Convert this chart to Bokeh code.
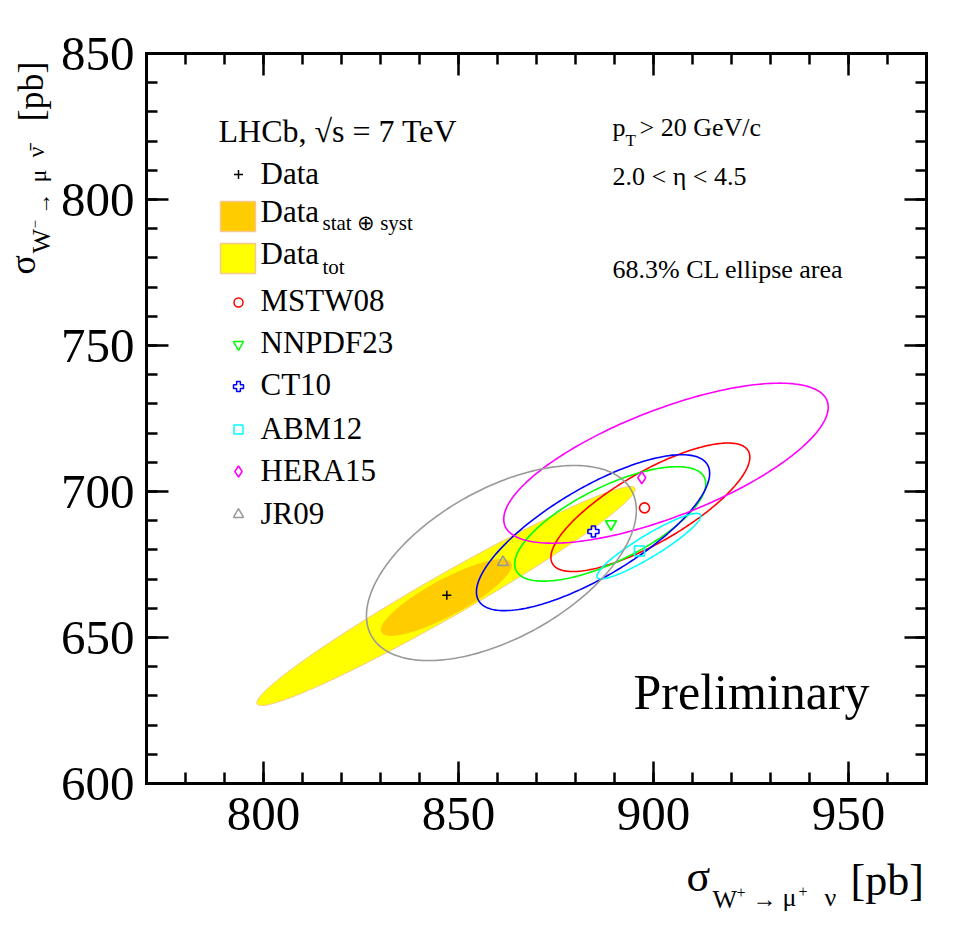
import numpy as np
from bokeh.plotting import figure
from bokeh.models import Range1d, LinearAxis, SingleIntervalTicker, Label
from bokeh.embed import file_html
from bokeh.resources import INLINE

# ---------------- data ----------------
x_lo, x_hi = 770, 970
y_lo, y_hi = 600, 850

data_x = [847.0]
data_y = [664.5]

band_names = ["stat \u2295 syst", "tot"]
band_cx = [846.9, 846.8]
band_cy = [663.7, 664.2]
band_hx = [16.7, 48.5]
band_hy = [13.0, 37.5]
band_rho = [0.85, 0.975]
band_colors = ["#ffcc00", "#ffff00"]

pdf_names = ["MSTW08", "NNPDF23", "CT10", "ABM12", "HERA15", "JR09"]
pdf_x = [897.7, 889.1, 884.6, 896.4, 897.0, 861.4]
pdf_y = [694.4, 688.9, 686.3, 679.6, 704.7, 675.8]
ell_cx = [899.2, 888.9, 884.5, 898.8, 903.2, 861.0]
ell_cy = [694.6, 688.9, 685.9, 681.3, 709.7, 675.5]
ell_hx = [25.5, 24.5, 29.9, 13.3, 41.6, 34.6]
ell_hy = [22.0, 19.6, 26.7, 11.2, 27.4, 33.4]
ell_rho = [0.78, 0.70, 0.76, 0.92, 0.70, 0.54]
pdf_colors = ["#ff0000", "#00ff00", "#0000ff", "#00ffff", "#ff00ff", "#999999"]
pdf_markers = ["circle", "inverted_triangle", "plus", "square", "diamond", "triangle"]
pdf_sizes = [10, 11, 11, 10, 12, 11]

# ---------------- layout (pixels) ----------------
W, H = 954, 914
FL, FR, FT, FB = 146, 926, 53, 783   # chart box edges
FONT = "Liberation Serif"
BASE_FIX = 0.36                      # label anchor sits this many em above the drawn baseline
sx = (FR - FL) / (x_hi - x_lo)
sy = (FB - FT) / (y_hi - y_lo)
view_x = (x_lo - FL / sx, x_hi + (W - FR) / sx)
view_y = (y_lo - (H - FB) / sy, y_hi + FT / sy)


def dx(px):
    return x_lo + (px - FL) / sx


def dy(py):
    return y_hi - (py - FT) / sy


p = figure(width=W, height=H,
           x_range=Range1d(*view_x), y_range=Range1d(*view_y),
           output_backend="svg", toolbar_location=None,
           x_axis_location=None, y_axis_location=None,
           min_border_left=0, min_border_right=0,
           min_border_top=0, min_border_bottom=0)
p.grid.visible = False
p.outline_line_color = None
p.background_fill_color = "white"
p.border_fill_color = "white"


def make_axis(labels, loc, bounds, standoff=10):
    ax = LinearAxis(ticker=SingleIntervalTicker(interval=50, num_minor_ticks=5),
                    fixed_location=loc, bounds=bounds)
    ax.axis_line_width = 3
    ax.axis_line_cap = "square"
    ax.major_tick_in = 22
    ax.major_tick_out = 0
    ax.minor_tick_in = 11
    ax.minor_tick_out = 0
    ax.major_tick_line_width = 2.5
    ax.minor_tick_line_width = 2.5
    ax.major_label_text_font = FONT
    ax.major_label_text_color = "black"
    if labels:
        ax.major_label_text_font_size = "49px"
        ax.major_label_standoff = standoff
    else:
        ax.major_label_text_font_size = "0px"
        ax.major_label_text_alpha = 0
        ax.major_label_standoff = 0
    return ax


p.add_layout(make_axis(True, y_lo, (x_lo, x_hi), 14), "below")
p.add_layout(make_axis(True, x_lo, (y_lo, y_hi), 12), "left")
p.add_layout(make_axis(False, y_hi, (x_lo, x_hi)), "above")
p.add_layout(make_axis(False, x_hi, (y_lo, y_hi)), "right")


def ellipse_pts(cx, cy, hx, hy, rho, n=240):
    t = np.linspace(0, 2 * np.pi, n)
    xs = cx + hx * np.cos(t)
    ys = cy + hy * (rho * np.cos(t) + np.sqrt(1 - rho ** 2) * np.sin(t))
    return xs, ys


# data bands: total (yellow) below, stat+syst (orange) on top
for i in [1, 0]:
    xs, ys = ellipse_pts(band_cx[i], band_cy[i], band_hx[i], band_hy[i], band_rho[i])
    p.patch(xs, ys, fill_color=band_colors[i], line_color="#f6c890" if i == 1 else band_colors[i],
            line_width=1)

# PDF ellipses
for i in range(len(pdf_names)):
    xs, ys = ellipse_pts(ell_cx[i], ell_cy[i], ell_hx[i], ell_hy[i], ell_rho[i])
    p.line(xs, ys, line_color=pdf_colors[i], line_width=1.6)

# PDF central values
for i in range(len(pdf_names)):
    p.scatter([pdf_x[i]], [pdf_y[i]], marker=pdf_markers[i], size=pdf_sizes[i],
              line_color=pdf_colors[i], fill_alpha=0, line_width=1.6)

# data point
p.scatter(data_x, data_y, marker="cross", size=9, line_color="black", line_width=1.5)


def lab(text, px, py, size, rotated=False):
    """px, py: wanted baseline start in picture pixels."""
    if rotated:
        px = px - BASE_FIX * size
        angle = np.pi / 2
    else:
        py = py - BASE_FIX * size
        angle = 0.0
    p.add_layout(Label(x=dx(px), y=dy(py), text=text, text_font=FONT,
                       text_font_size=f"{size}px", text_color="black",
                       text_align="left", text_baseline="alphabetic", angle=angle))


# ---------------- legend ----------------
LX = 238
lab("LHCb, \u221as = 7 TeV", 218, 142, 32)
p.scatter([dx(LX)], [dy(174)], marker="cross", size=9, line_color="black", line_width=1.5)
lab("Data", 260, 184, 31)
box_rows = [(201, 231), (243, 273)]
for i in range(2):
    t, b = box_rows[i]
    p.quad(left=[dx(220)], right=[dx(255)], top=[dy(t)], bottom=[dy(b)],
           fill_color=band_colors[i], line_color="#f6c890", line_width=1.5)
lab("Data", 260, 222, 31)
lab(band_names[0], 322, 230, 21)
lab("Data", 260, 264, 31)
lab(band_names[1], 322, 274, 21)

leg_marker_y = [302, 344, 386, 429, 471, 514]
leg_text_y = [311, 353, 395, 439, 481, 524]
for i in range(len(pdf_names)):
    p.scatter([dx(LX)], [dy(leg_marker_y[i])], marker=pdf_markers[i], size=pdf_sizes[i] - 1,
              line_color=pdf_colors[i], fill_alpha=0, line_width=1.5)
    lab(pdf_names[i], 260, leg_text_y[i], 31)

# ---------------- right-hand texts ----------------
lab("p", 612, 136, 26)
lab("T", 625, 146, 17)
lab("> 20 GeV/c", 639, 136, 26)
lab("2.0 < \u03b7 < 4.5", 612, 185, 26)
lab("68.3% CL ellipse area", 612, 278, 26)
lab("Preliminary", 633, 709, 50)

# ---------------- axis titles ----------------
# x title: sigma_{W+ -> mu+ nu} [pb]
lab("\u03c3", 686, 892, 44)
lab("W", 712, 908, 26)
lab("+", 736, 898, 16)
lab("\u2192", 752, 907, 24)
lab("\u03bc", 782, 906, 26)
lab("+", 798, 897, 16)
lab("\u03bd", 824, 906, 26)
lab("[pb]", 850, 896, 44)

# y title (rotated): sigma_{W- -> mu- nubar} [pb]
lab("\u03c3", 35, 274, 36, True)
lab("W", 50, 253, 26, True)
lab("\u2212", 40, 228, 15, True)
lab("\u2192", 50, 214, 22, True)
lab("\u03bc", 46, 182, 24, True)
lab("\u03bd\u0304", 44, 157, 24, True)
lab("[pb]", 43, 121, 36, True)

open("out.html", "w").write(file_html(p, INLINE))
